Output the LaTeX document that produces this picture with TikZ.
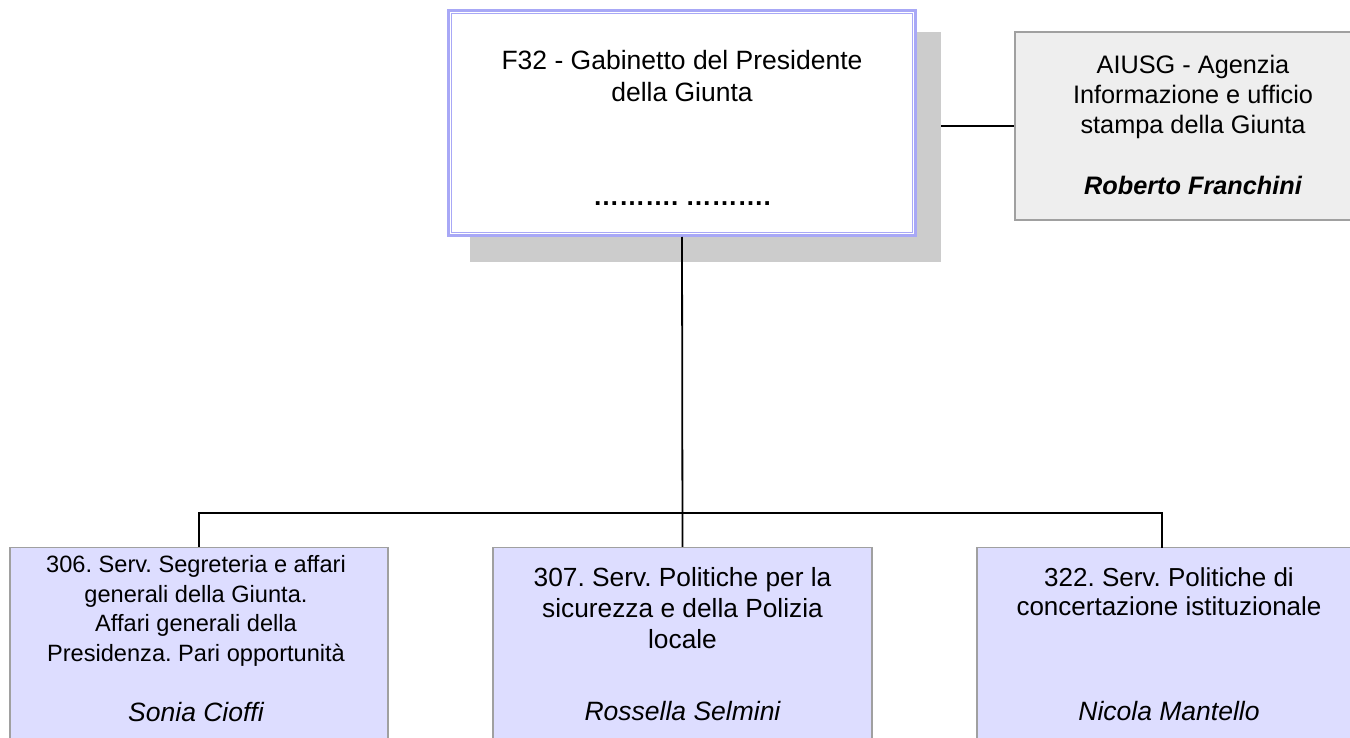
\documentclass[tikz,border=0pt]{standalone}
\usepackage{fontspec}
\setmainfont{Liberation Sans}
\frenchspacing
\definecolor{topblue}{RGB}{168,168,246}
\definecolor{shadowgray}{RGB}{204,204,204}
\definecolor{boxgray}{RGB}{160,160,160}
\definecolor{rightfill}{RGB}{238,238,238}
\definecolor{unitfill}{RGB}{221,221,255}
\tikzset{
  conn/.style={draw=black, line width=1.8pt},
  unitbox/.style={draw=boxgray, fill=unitfill, line width=1.5pt, inner sep=0pt, minimum height=230pt},
  txt/.style={inner sep=0pt, align=center},
  namet/.style={inner sep=0pt, font=\fontsize{26.5}{30}\selectfont\itshape},
}
\begin{document}
\begin{tikzpicture}[x=1pt,y=-1pt]
\useasboundingbox (0,0) rectangle (1350,738);
\fill[white] (0,0) rectangle (1350,738);
\clip (0,0) rectangle (1350,738);

% shadow of the top box
\node[fill=shadowgray, inner sep=0pt, minimum width=471pt, minimum height=230pt] (shadow) at (705.5,147) {};
% top box
\node[draw=topblue, fill=white, line width=3pt, inner sep=0pt, minimum width=467pt, minimum height=225pt] (top) at (682,123) {};
\draw[topblue, line width=1.5pt] ([shift={(4.5,4.5)}]top.north west) rectangle ([shift={(-4.5,-4.5)}]top.south east);
\node[txt, anchor=north, font=\fontsize{26.5}{32}\selectfont] (toptext) at (682,50) {F32 - Gabinetto del Presidente\\della Giunta};
\node[inner sep=0pt, anchor=base, font=\fontsize{26}{30}\selectfont\bfseries] (dots) at (682,206) {………. ……….};

% right box
\node[draw=boxgray, fill=rightfill, line width=1.5pt, inner sep=0pt, minimum width=356pt, minimum height=188pt] (rb) at (1193,126) {};
\node[txt, anchor=north, font=\fontsize{25.3}{30}\selectfont] (rbtext) at (1193,55) {AIUSG - Agenzia\\Informazione e ufficio\\stampa della Giunta};
\node[inner sep=0pt, anchor=base, font=\fontsize{25.3}{30}\selectfont\bfseries\itshape] (rbname) at (1193,195) {Roberto Franchini};

% bottom boxes
\node[unitbox, minimum width=378pt] (b1) at (199,662.5) {};
\node[unitbox, minimum width=379pt] (b2) at (682.5,662.5) {};
\node[unitbox, minimum width=384pt] (b3) at (1169,662.5) {};

\node[txt, anchor=north, font=\fontsize{23.6}{29.7}\selectfont] (b1text) at (196,555) {306. Serv. Segreteria e affari\\generali della Giunta.\\Affari generali della\\Presidenza. Pari opportunità};
\node[namet, anchor=base] (b1name) at (196,721) {Sonia Cioffi};

\node[txt, anchor=north, font=\fontsize{26.3}{31}\selectfont] (b2text) at (682.5,567) {307. Serv. Politiche per la\\sicurezza e della Polizia\\locale};
\node[namet, anchor=base] (b2name) at (682.5,720) {Rossella Selmini};

\node[txt, anchor=north, font=\fontsize{26}{29}\selectfont] (b3text) at (1169,567) {322. Serv. Politiche di\\concertazione istituzionale};
\node[namet, anchor=base] (b3name) at (1169,720) {Nicola Mantello};

% connectors
\coordinate (bus) at (682,513);
\coordinate (d3) at (1162,547.5);
\draw[conn] (shadow.east |- rb.west) -- (rb.west);
\draw[conn] (top.south) -- (b2.north);
\draw[conn] (b1.north) |- (bus) -| (d3);
\end{tikzpicture}
\end{document}
